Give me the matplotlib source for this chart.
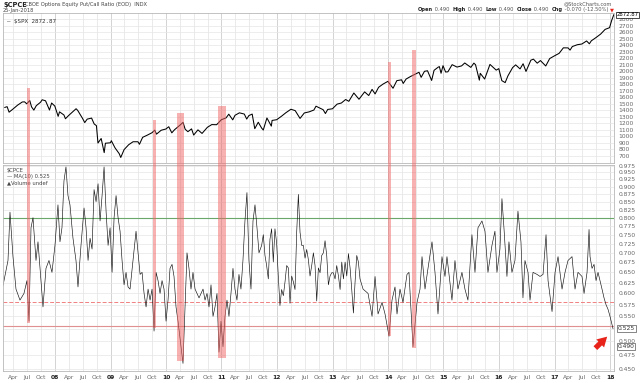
import matplotlib
matplotlib.use("Agg")
import matplotlib.pyplot as plt
import matplotlib.dates as mdates
import matplotlib.ticker as mticker
from matplotlib.patches import Rectangle
import numpy as np
import pandas as pd

# S&P 500 ($SPX) closes
spx_dates = [
    "2007-02-05", "2007-02-20", "2007-03-05", "2007-03-30", "2007-04-30", "2007-05-31", "2007-06-15",
    "2007-06-29", "2007-07-19", "2007-07-31", "2007-08-15", "2007-08-31", "2007-09-28", "2007-10-09",
    "2007-10-31", "2007-11-26", "2007-12-10", "2007-12-31", "2008-01-22", "2008-01-31", "2008-02-29",
    "2008-03-10", "2008-03-31", "2008-04-30", "2008-05-19", "2008-05-30", "2008-06-30", "2008-07-15",
    "2008-07-31", "2008-08-29", "2008-09-15", "2008-09-30", "2008-10-10", "2008-10-31", "2008-11-20",
    "2008-11-28", "2008-12-31", "2009-01-06", "2009-01-30", "2009-02-27", "2009-03-09", "2009-03-31",
    "2009-04-30", "2009-05-29", "2009-06-30", "2009-07-10", "2009-07-31", "2009-08-31", "2009-09-30",
    "2009-10-19", "2009-10-30", "2009-11-30", "2009-12-31", "2010-01-19", "2010-02-08", "2010-02-26",
    "2010-03-31", "2010-04-23", "2010-05-07", "2010-05-25", "2010-06-18", "2010-07-02", "2010-07-30",
    "2010-08-26", "2010-09-30", "2010-10-29", "2010-11-30", "2010-12-31", "2011-01-31", "2011-02-18",
    "2011-03-16", "2011-03-31", "2011-04-29", "2011-05-31", "2011-06-16", "2011-06-30", "2011-07-22",
    "2011-08-08", "2011-08-31", "2011-09-22", "2011-10-03", "2011-10-27", "2011-11-25", "2011-11-30",
    "2011-12-30", "2012-01-31", "2012-02-29", "2012-04-02", "2012-04-30", "2012-06-01", "2012-06-29",
    "2012-07-31", "2012-08-31", "2012-09-14", "2012-10-31", "2012-11-15", "2012-11-30", "2012-12-31",
    "2013-01-31", "2013-02-28", "2013-03-28", "2013-04-18", "2013-05-21", "2013-06-24", "2013-07-31",
    "2013-08-27", "2013-09-18", "2013-10-08", "2013-10-31", "2013-11-29", "2013-12-31", "2014-02-03",
    "2014-02-28", "2014-03-31", "2014-04-11", "2014-04-30", "2014-05-30", "2014-06-30", "2014-07-24",
    "2014-08-07", "2014-08-29", "2014-09-18", "2014-10-15", "2014-10-31", "2014-11-28", "2014-12-05",
    "2014-12-16", "2014-12-29", "2015-01-15", "2015-01-30", "2015-02-27", "2015-03-31", "2015-04-30",
    "2015-05-21", "2015-06-30", "2015-07-20", "2015-07-31", "2015-08-25", "2015-08-31", "2015-09-29",
    "2015-10-30", "2015-11-03", "2015-12-14", "2015-12-31", "2016-01-20", "2016-02-11", "2016-02-29",
    "2016-03-31", "2016-04-20", "2016-05-19", "2016-06-08", "2016-06-27", "2016-07-29", "2016-08-15",
    "2016-09-09", "2016-09-30", "2016-11-04", "2016-11-30", "2016-12-30", "2017-01-31", "2017-02-28",
    "2017-03-31", "2017-04-13", "2017-04-28", "2017-05-31", "2017-06-30", "2017-07-31", "2017-08-18",
    "2017-08-31", "2017-09-29", "2017-10-31", "2017-11-30", "2017-12-29", "2018-01-12", "2018-01-26",
]
spx_close = [
    1447, 1459, 1374, 1421, 1482, 1531, 1533,
    1503, 1553, 1455, 1406, 1474, 1527, 1565,
    1549, 1407, 1515, 1468, 1310, 1379, 1331,
    1273, 1323, 1386, 1427, 1400, 1280, 1214,
    1267, 1283, 1193, 1166, 899, 969, 752,
    896, 903, 935, 826, 735, 677, 798,
    873, 919, 919, 880, 987, 1021, 1057,
    1097, 1036, 1096, 1115, 1150, 1056, 1104,
    1169, 1217, 1111, 1074, 1117, 1022, 1102,
    1047, 1141, 1183, 1181, 1258, 1286, 1343,
    1256, 1326, 1364, 1345, 1268, 1321, 1345,
    1120, 1219, 1130, 1099, 1285, 1159, 1247,
    1258, 1312, 1366, 1419, 1398, 1278, 1362,
    1379, 1407, 1466, 1412, 1353, 1416, 1426,
    1498, 1515, 1569, 1541, 1669, 1573, 1686,
    1630, 1725, 1655, 1757, 1806, 1848, 1742,
    1859, 1872, 1816, 1884, 1924, 1960, 1988,
    1910, 2003, 2011, 1862, 2018, 2068, 2075,
    1973, 2090, 1992, 1995, 2105, 2068, 2086,
    2131, 2063, 2129, 2104, 1867, 1972, 1884,
    2079, 2109, 2021, 2044, 1859, 1829, 1932,
    2060, 2102, 2040, 2119, 2001, 2174, 2190,
    2128, 2168, 2085, 2199, 2239, 2279, 2364,
    2363, 2329, 2384, 2412, 2423, 2470, 2426,
    2472, 2519, 2575, 2648, 2674, 2786, 2872.87,
]

# $CPCE MA(10), time as decimal years
cpce_time = [
    2007.063, 2007.153, 2007.189, 2007.243, 2007.297, 2007.369, 2007.441, 2007.495, 2007.532, 2007.568,
    2007.604, 2007.658, 2007.694, 2007.748, 2007.784, 2007.838, 2007.892, 2007.946, 2008.000, 2008.054,
    2008.090, 2008.126, 2008.162, 2008.198, 2008.234, 2008.270, 2008.324, 2008.378, 2008.414, 2008.468,
    2008.523, 2008.559, 2008.595, 2008.631, 2008.667, 2008.703, 2008.739, 2008.775, 2008.811, 2008.847,
    2008.883, 2008.919, 2008.955, 2008.991, 2009.027, 2009.063, 2009.099, 2009.135, 2009.171, 2009.207,
    2009.243, 2009.279, 2009.315, 2009.351, 2009.405, 2009.459, 2009.495, 2009.532, 2009.568, 2009.604,
    2009.640, 2009.676, 2009.712, 2009.748, 2009.784, 2009.820, 2009.856, 2009.892, 2009.928, 2009.964,
    2010.000, 2010.036, 2010.072, 2010.108, 2010.144, 2010.180, 2010.216, 2010.270, 2010.306, 2010.342,
    2010.378, 2010.414, 2010.450, 2010.486, 2010.523, 2010.559, 2010.595, 2010.631, 2010.667, 2010.703,
    2010.739, 2010.775, 2010.811, 2010.847, 2010.883, 2010.919, 2010.955, 2010.991, 2011.027, 2011.063,
    2011.099, 2011.135, 2011.171, 2011.207, 2011.243, 2011.279, 2011.315, 2011.351, 2011.387, 2011.423,
    2011.459, 2011.495, 2011.532, 2011.568, 2011.604, 2011.640, 2011.676,
    2011.724, 2011.754, 2011.784, 2011.814, 2011.844, 2011.874, 2011.904, 2011.934, 2011.964, 2011.994,
    2012.024, 2012.054, 2012.084, 2012.115, 2012.145, 2012.175, 2012.205, 2012.235, 2012.265, 2012.295,
    2012.325, 2012.355, 2012.385, 2012.415, 2012.445, 2012.475, 2012.505, 2012.535, 2012.565, 2012.595,
    2012.625, 2012.655, 2012.685, 2012.715, 2012.745, 2012.775, 2012.805, 2012.835, 2012.865, 2012.895,
    2012.925, 2012.955, 2012.985, 2013.015, 2013.045, 2013.075, 2013.106, 2013.136, 2013.166, 2013.196,
    2013.226, 2013.256, 2013.286, 2013.316, 2013.346, 2013.376, 2013.406, 2013.436, 2013.466,
    2013.495, 2013.550, 2013.640, 2013.712, 2013.766, 2013.820, 2013.892, 2013.946, 2014.018, 2014.072,
    2014.126, 2014.162, 2014.216, 2014.270, 2014.342, 2014.378, 2014.450, 2014.523, 2014.577, 2014.613,
    2014.667, 2014.721, 2014.793, 2014.847, 2014.901, 2014.973, 2015.027, 2015.063, 2015.153, 2015.207,
    2015.261, 2015.333, 2015.387, 2015.441, 2015.513, 2015.568, 2015.622, 2015.694, 2015.748, 2015.802,
    2015.874, 2015.928, 2015.964, 2016.018, 2016.054, 2016.090, 2016.144, 2016.180, 2016.234, 2016.288,
    2016.342, 2016.396, 2016.432, 2016.468, 2016.523, 2016.559, 2016.613, 2016.685, 2016.739, 2016.793,
    2016.847, 2016.883, 2016.955, 2017.009, 2017.063, 2017.135, 2017.189, 2017.243, 2017.315, 2017.369,
    2017.423, 2017.495, 2017.532, 2017.586, 2017.622, 2017.640, 2017.676, 2017.712, 2017.748, 2017.784,
    2017.820, 2017.856, 2017.892, 2017.928, 2017.964, 2018.000, 2018.054,
]
cpce_ma10 = [
    0.618, 0.680, 0.817, 0.690, 0.610, 0.585, 0.600, 0.630, 0.540, 0.770,
    0.800, 0.680, 0.730, 0.630, 0.570, 0.660, 0.680, 0.650, 0.720, 0.840,
    0.730, 0.770, 0.920, 0.970, 0.870, 0.840, 0.740, 0.680, 0.615, 0.720,
    0.830, 0.770, 0.680, 0.740, 0.710, 0.890, 0.850, 0.910, 0.790, 0.870,
    0.970, 0.820, 0.720, 0.770, 0.650, 0.800, 0.870, 0.800, 0.760, 0.680,
    0.620, 0.650, 0.615, 0.610, 0.680, 0.760, 0.700, 0.645, 0.650, 0.600,
    0.570, 0.610, 0.585, 0.610, 0.520, 0.650, 0.630, 0.600, 0.630, 0.610,
    0.540, 0.585, 0.660, 0.670, 0.640, 0.570, 0.540, 0.490, 0.460, 0.570,
    0.700, 0.660, 0.610, 0.650, 0.610, 0.600, 0.590, 0.600, 0.610, 0.585,
    0.600, 0.570, 0.620, 0.550, 0.570, 0.600, 0.480, 0.540, 0.490, 0.550,
    0.585, 0.550, 0.600, 0.660, 0.610, 0.585, 0.645, 0.610, 0.680, 0.790,
    0.880, 0.680, 0.610, 0.790, 0.840, 0.770, 0.700,
    0.720, 0.750, 0.693, 0.667, 0.634, 0.737, 0.767, 0.676, 0.767, 0.727,
    0.641, 0.573, 0.609, 0.595, 0.627, 0.667, 0.661, 0.578, 0.641, 0.627,
    0.609, 0.757, 0.874, 0.757, 0.720, 0.720, 0.686, 0.709, 0.682, 0.641,
    0.667, 0.700, 0.667, 0.583, 0.661, 0.649, 0.693, 0.700, 0.733, 0.693,
    0.620, 0.641, 0.649, 0.649, 0.634, 0.667, 0.641, 0.609, 0.676, 0.634,
    0.676, 0.641, 0.698, 0.661, 0.609, 0.557, 0.627, 0.693, 0.676,
    0.634, 0.610, 0.600, 0.550, 0.640, 0.555, 0.580, 0.555, 0.510, 0.585,
    0.615, 0.555, 0.610, 0.580, 0.645, 0.650, 0.490, 0.580, 0.610, 0.690,
    0.610, 0.660, 0.730, 0.650, 0.555, 0.690, 0.640, 0.690, 0.585, 0.680,
    0.610, 0.650, 0.610, 0.585, 0.750, 0.650, 0.770, 0.790, 0.760, 0.650,
    0.720, 0.760, 0.650, 0.710, 0.860, 0.770, 0.640, 0.730, 0.650, 0.680,
    0.820, 0.730, 0.590, 0.680, 0.650, 0.585, 0.650, 0.645, 0.640, 0.645,
    0.750, 0.630, 0.560, 0.650, 0.690, 0.610, 0.650, 0.680, 0.690, 0.610,
    0.650, 0.640, 0.600, 0.650, 0.765, 0.690, 0.660, 0.670, 0.630, 0.650,
    0.630, 0.610, 0.590, 0.575, 0.565, 0.550, 0.525,
]
cpce_last = 0.490

# reference levels on the ratio panel
level_high = 0.80
level_mid = 0.58
level_low = 0.53

# highlighted episodes: start, end, top of band (SPX), bottom of band (CPCE)
band_start = ["2007-07-01", "2009-10-10", "2010-03-14", "2010-12-08", "2013-12-30", "2014-06-10"]
band_end = ["2007-07-20", "2009-10-24", "2010-04-28", "2011-01-30", "2014-01-20", "2014-07-01"]
band_top = [1746, 1254, 1362, 1469, 2151, 2331]
band_bottom = [0.536, 0.526, 0.465, 0.470, 0.511, 0.488]

spx_ticks = list(range(700, 2900, 100))
cpce_ticks = [0.450, 0.475, 0.500, 0.525, 0.550, 0.575, 0.600, 0.625, 0.650, 0.675, 0.700, 0.725,
              0.750, 0.775, 0.800, 0.825, 0.850, 0.875, 0.900, 0.925, 0.950, 0.975]


def decyear(y):
    yr = int(y)
    a = pd.Timestamp(yr, 1, 1)
    b = pd.Timestamp(yr + 1, 1, 1)
    return a + (b - a) * (y - yr)


spx_x = mdates.date2num(pd.to_datetime(spx_dates))
cpce_x = mdates.date2num([decyear(t) for t in cpce_time])

W, H = 640, 383
fig = plt.figure(figsize=(6.4, 3.83), dpi=100)
fig.patch.set_facecolor("white")


def fx(px):
    return px / W


def fy(py):
    return 1 - py / H


ax1 = fig.add_axes([fx(3), fy(163), fx(611), fy(13) - fy(163)])
ax2 = fig.add_axes([fx(3), fy(371), fx(611), fy(165) - fy(371)], sharex=ax1)

xmin = mdates.date2num(decyear(2007.063))
xmax = mdates.date2num(decyear(2018.072))

grid_c = "#e6e6e6"
year_c = "#cccccc"
tick_c = "#666666"
fs = 4.3

# quarter gridlines and labels
quarters = pd.date_range("2007-04-01", "2018-01-01", freq="QS-JAN")
q_x = mdates.date2num(quarters)
q_lab = [("%02d" % (d.year % 100)) if d.month == 1 else d.strftime("%b") for d in quarters]

for ax in (ax1, ax2):
    ax.set_facecolor("white")
    for s in ax.spines.values():
        s.set_color("#b8b8b8")
        s.set_linewidth(0.6)
    for q, d in zip(q_x, quarters):
        ax.axvline(q, color=year_c if d.month == 1 else grid_c, lw=0.6, zorder=0)
    ax.yaxis.tick_right()
    ax.tick_params(axis="y", length=0, labelsize=fs, labelcolor=tick_c, pad=3)

# top panel: SPX
ax1.plot(spx_x, spx_close, color="black", lw=0.75)
ax1.set_ylim(592, 2900)
ax1.set_yticks(spx_ticks)
ax1.set_yticklabels([str(t) for t in spx_ticks])
for t in spx_ticks:
    ax1.axhline(t, color=grid_c, lw=0.5, zorder=0)
ax1.tick_params(axis="x", length=0, labelbottom=False)
ax1.text(1.004, spx_close[-1], "%.2f" % spx_close[-1], fontsize=3.9, color="black",
         va="center", ha="left", transform=ax1.get_yaxis_transform(), clip_on=False,
         bbox=dict(boxstyle="square,pad=0.1", fc="white", ec="black", lw=0.5))
ax1.text(0.006, 0.94, "\u2014 $SPX 2872.87", transform=ax1.transAxes, fontsize=4.2,
         family="DejaVu Sans Mono", color="#333333", va="center")

# bottom panel: CPCE
ax2.set_yscale("log")
ax2.plot(cpce_x, cpce_ma10, color="#111111", lw=0.45)
ax2.set_ylim(0.447, 0.977)
ax2.yaxis.set_major_locator(mticker.FixedLocator(cpce_ticks))
ax2.yaxis.set_minor_locator(mticker.NullLocator())
ax2.yaxis.set_major_formatter(mticker.FixedFormatter(["%.3f" % t for t in cpce_ticks]))
for t in cpce_ticks:
    ax2.axhline(t, color=grid_c, lw=0.5, zorder=0)
ax2.axhline(level_high, color="#6aa86a", lw=0.8, zorder=1)
ax2.axhline(level_mid, color="#f08080", lw=0.7, ls=(0, (4, 2)), zorder=1)
ax2.axhline(level_low, color="#e09090", lw=0.8, zorder=1)

ax2.set_xticks(q_x)
ax2.set_xticklabels(q_lab)
ax2.tick_params(axis="x", length=0, labelsize=fs, labelcolor=tick_c, pad=3)
for lab, d in zip(ax2.get_xticklabels(), quarters):
    if d.month == 1:
        lab.set_fontweight("bold")
        lab.set_color("#222222")
ax2.set_xlim(xmin, xmax)

for val in (cpce_ma10[-1], cpce_last):
    ax2.text(1.006, val, "%.3f" % val, fontsize=fs, color="#333333", va="center", ha="left",
             transform=ax2.get_yaxis_transform(), clip_on=False,
             bbox=dict(boxstyle="square,pad=0.15", fc="white", ec="#555555", lw=0.5))

ax2.text(0.006, 0.985, "$CPCE", transform=ax2.transAxes, fontsize=3.8, color="#444444", va="top")
ax2.text(0.006, 0.955, "\u2014 MA(10) %.3f" % cpce_ma10[-1], transform=ax2.transAxes, fontsize=3.8,
         color="#444444", va="top")
ax2.text(0.006, 0.925, "\u25b2Volume undef", transform=ax2.transAxes, fontsize=3.8, color="#444444", va="top")

# red arrow pointing at the latest reading
ax2.annotate("", xy=(mdates.date2num(decyear(2017.985)), 0.513),
             xytext=(mdates.date2num(decyear(2017.70)), 0.484),
             arrowprops=dict(arrowstyle="simple,head_length=0.7,head_width=0.8,tail_width=0.38",
                             color="#e8231a", lw=0))

# highlighted bands spanning both panels
inv = fig.transFigure.inverted()
for s, e, top, bot in zip(band_start, band_end, band_top, band_bottom):
    x0 = mdates.date2num(pd.Timestamp(s))
    x1 = mdates.date2num(pd.Timestamp(e))
    p_top = inv.transform(ax1.transData.transform((x0, top)))
    p_bot = inv.transform(ax2.transData.transform((x1, bot)))
    fig.patches.append(Rectangle((p_top[0], p_bot[1]), p_bot[0] - p_top[0], p_top[1] - p_bot[1],
                                 transform=fig.transFigure, facecolor="#f06464", alpha=0.5,
                                 edgecolor="none", zorder=3))

# header texts
fig.text(fx(3), fy(4.5), "$CPCE", fontsize=4.8, fontweight="bold", va="center", color="#222222")
fig.text(fx(25), fy(4.5), "CBOE Options Equity Put/Call Ratio (EOD)  INDX", fontsize=3.7,
         va="center", color="#444444")
fig.text(fx(3), fy(10.5), "25-Jan-2018", fontsize=3.7, va="center", color="#444444")
fig.text(fx(612), fy(3.5), "@StockCharts.com", fontsize=3.7, va="center", ha="right", color="#555555")

hdr = [("Open", True), (" 0.490  ", False), ("High", True), (" 0.490  ", False), ("Low", True),
       (" 0.490  ", False), ("Close", True), (" 0.490  ", False), ("Chg", True),
       (" -0.070 (-12.50%) ", False), ("\u25bc", False)]
fig.canvas.draw()
renderer = fig.canvas.get_renderer()
pieces = []
for txt, bold in hdr:
    t = fig.text(0, fy(9.5), txt, fontsize=3.7, va="center", ha="left",
                 fontweight="bold" if bold else "normal",
                 color=("#e8231a" if txt == "\u25bc" else ("#222222" if bold else "#555555")))
    pieces.append((t, t.get_window_extent(renderer=renderer).width / W))
xcur = fx(614) - sum(w for _, w in pieces)
for t, w in pieces:
    t.set_x(xcur)
    xcur += w

fig.savefig("out.png", dpi=100)
